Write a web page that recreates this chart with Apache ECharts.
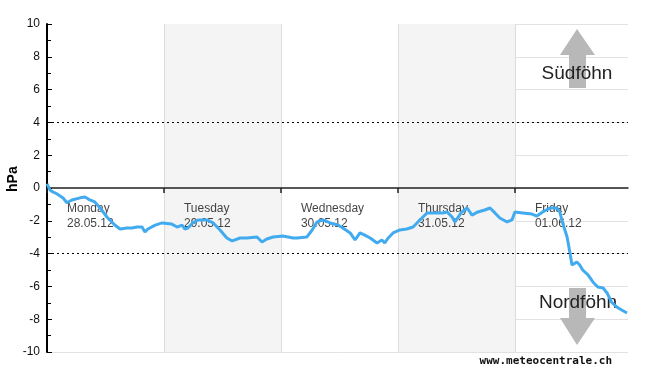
<!DOCTYPE html>
<html>
<head>
<meta charset="utf-8">
<script src="https://cdn.jsdelivr.net/npm/echarts@6/dist/echarts.min.js"></script>
<style>
  html, body { margin: 0; padding: 0; background: #fff; }
  #chart { width: 650px; height: 375px; }
</style>
</head>
<body>
<div id="chart"></div>
<script>
  // hours since Monday 00:00
  const hours = [0, 0.6, 1.2, 2.0, 3.3, 4.1, 5.1, 6.8, 7.8, 8.8, 9.8, 10.9, 12.3, 13.9, 15.0, 16.4, 17.4, 18.5, 19.5, 20.1, 20.7, 22.2, 23.6,
    25.6, 26.7, 27.7, 28.3, 28.9, 29.9, 31.0, 32.8, 34.1, 35.5, 36.9, 38.0, 39.6, 41.0, 43.1, 44.1, 45.1, 46.4,
    48.4, 50.5, 51.3, 53.3, 54.4, 55.4, 56.6, 58.1, 59.7, 60.7, 62.2, 63.2, 64.2, 65.2, 66.3, 67.7, 68.7, 69.3, 70.0, 71.0,
    72.4, 73.8, 75.1, 76.5, 78.0, 79.2, 81.2, 82.1, 83.1, 83.7, 85.1, 86.2, 87.2, 88.4, 89.8, 90.9, 91.9, 92.9, 94.4, 95.4,
    96.0, 97.6, 99.5, 100.5, 101.7, 103.2, 104.6, 105.2, 105.8, 106.7, 107.3, 107.7, 108.7, 109.3, 109.9, 111.0, 112.0, 113.0, 114.1, 114.9, 115.8, 116.9, 117.9, 119.0]
  // pressure difference (hPa)
  const pressure = [0.25, -0.12, -0.24, -0.35, -0.61, -0.9, -0.73, -0.6, -0.55, -0.73, -0.85, -1.22, -1.77, -2.26, -2.5, -2.44, -2.44, -2.38, -2.38, -2.68, -2.5, -2.26, -2.13,
    -2.2, -2.38, -2.26, -2.5, -2.44, -2.13, -1.95, -1.95, -2.13, -2.56, -3.05, -3.23, -3.05, -3.05, -2.99, -3.29, -3.11, -2.99,
    -2.93, -3.05, -3.05, -2.99, -2.56, -2.07, -1.95, -2.13, -2.26, -2.44, -2.74, -3.17, -2.74, -2.87, -3.05, -3.35, -3.17, -3.35, -3.05, -2.74,
    -2.56, -2.5, -2.38, -1.95, -1.52, -1.52, -1.52, -1.46, -1.77, -2.07, -1.46, -1.22, -1.65, -1.46, -1.34, -1.22, -1.52, -1.83, -2.07, -1.95,
    -1.46, -1.52, -1.59, -1.71, -1.46, -1.22, -1.22, -1.46, -2.13, -2.99, -3.96, -4.7, -4.51, -4.7, -5.0, -5.3, -5.73, -6.04, -6.1, -6.4, -6.95, -7.26, -7.44, -7.62]

  const dayStarts = [0, 24, 48, 72, 96]
  const dayNames = ['Monday', 'Tuesday', 'Wednesday', 'Thursday', 'Friday']
  const dayDates = ['28.05.12', '29.05.12', '30.05.12', '31.05.12', '01.06.12']
  const limits = [4, -4]

  const font = '"Liberation Sans", Arial, sans-serif'
  const chart = echarts.init(document.getElementById('chart'))

  const lineData = hours.map((h, i) => [h, pressure[i]])
  const dayLabels = dayStarts.map((d, i) => ({ value: [d + 4.1, -1.7], name: dayNames[i], date: dayDates[i] }))

  const option = {
    animation: false,
    backgroundColor: '#fff',
    grid: { left: 47, right: 22, top: 24, bottom: 23 },
    xAxis: {
      type: 'value',
      min: 0,
      max: 119.2,
      interval: 24,
      axisLine: { onZero: true, lineStyle: { color: '#222', width: 1.5 } },
      axisTick: { show: true, length: 5, customValues: dayStarts, lineStyle: { color: '#222', width: 1.5 } },
      axisLabel: { show: false },
      splitLine: { show: true, showMinLine: false, showMaxLine: true, lineStyle: { color: '#dcdcdc', width: 1 } },
      splitArea: { show: true, areaStyle: { color: ['#ffffff', '#f4f4f4'] } }
    },
    yAxis: {
      type: 'value',
      min: -10,
      max: 10,
      interval: 2,
      axisLine: { show: true, lineStyle: { color: '#000', width: 2 } },
      axisTick: { show: true, inside: true, length: 5, lineStyle: { color: '#000', width: 1 } },
      minorTick: { show: true, splitNumber: 2, length: 4, lineStyle: { color: '#000', width: 1 } },
      axisLabel: { color: '#111', fontFamily: font, fontSize: 12, margin: 7 },
      splitLine: { show: true, lineStyle: { color: '#e2e2e2', width: 1 } }
    },
    graphic: [
      // Südföhn arrow
      { type: 'polygon', z: 1, shape: { points: [[577, 29], [595, 55], [586, 55], [586, 88], [569, 88], [569, 55], [560, 55]] },
        style: { fill: '#b8b8b8' } },
      { type: 'text', z: 2, x: 577, y: 74, style: { text: 'Südföhn', font: '19px ' + font, fill: '#222', align: 'center', verticalAlign: 'middle' } },
      // Nordföhn arrow
      { type: 'polygon', z: 1, shape: { points: [[569, 288], [586, 288], [586, 318], [595, 318], [577, 345], [560, 318], [569, 318]] },
        style: { fill: '#b8b8b8' } },
      { type: 'text', z: 2, x: 578, y: 303, style: { text: 'Nordföhn', font: '19px ' + font, fill: '#222', align: 'center', verticalAlign: 'middle' } },
      { type: 'text', rotation: Math.PI / 2, x: 6, y: 192, style: { text: 'hPa', font: 'bold 14px ' + font, fill: '#000' } },
      { type: 'text', right: 38, top: 356, style: { text: 'www.meteocentrale.ch', font: 'bold 11px "DejaVu Sans Mono", monospace', fill: '#111' } }
    ],
    series: [
      {
        type: 'scatter',
        z: 1,
        symbolSize: 0,
        silent: true,
        data: dayLabels,
        label: {
          show: true,
          position: 'right',
          distance: 0,
          formatter: p => p.data.name + '\n' + p.data.date,
          color: '#111',
          fontFamily: font,
          fontSize: 12,
          lineHeight: 15,
          align: 'left',
          verticalAlign: 'middle'
        }
      },
      {
        type: 'line',
        z: 3,
        data: lineData,
        showSymbol: false,
        lineStyle: { color: '#42abef', width: 3 },
        markLine: {
          silent: true,
          symbol: 'none',
          label: { show: false },
          lineStyle: { color: '#000', width: 1, type: [2, 3] },
          data: limits.map(v => ({ yAxis: v }))
        }
      }
    ]
  }
  chart.setOption(option)
</script>
</body>
</html>
